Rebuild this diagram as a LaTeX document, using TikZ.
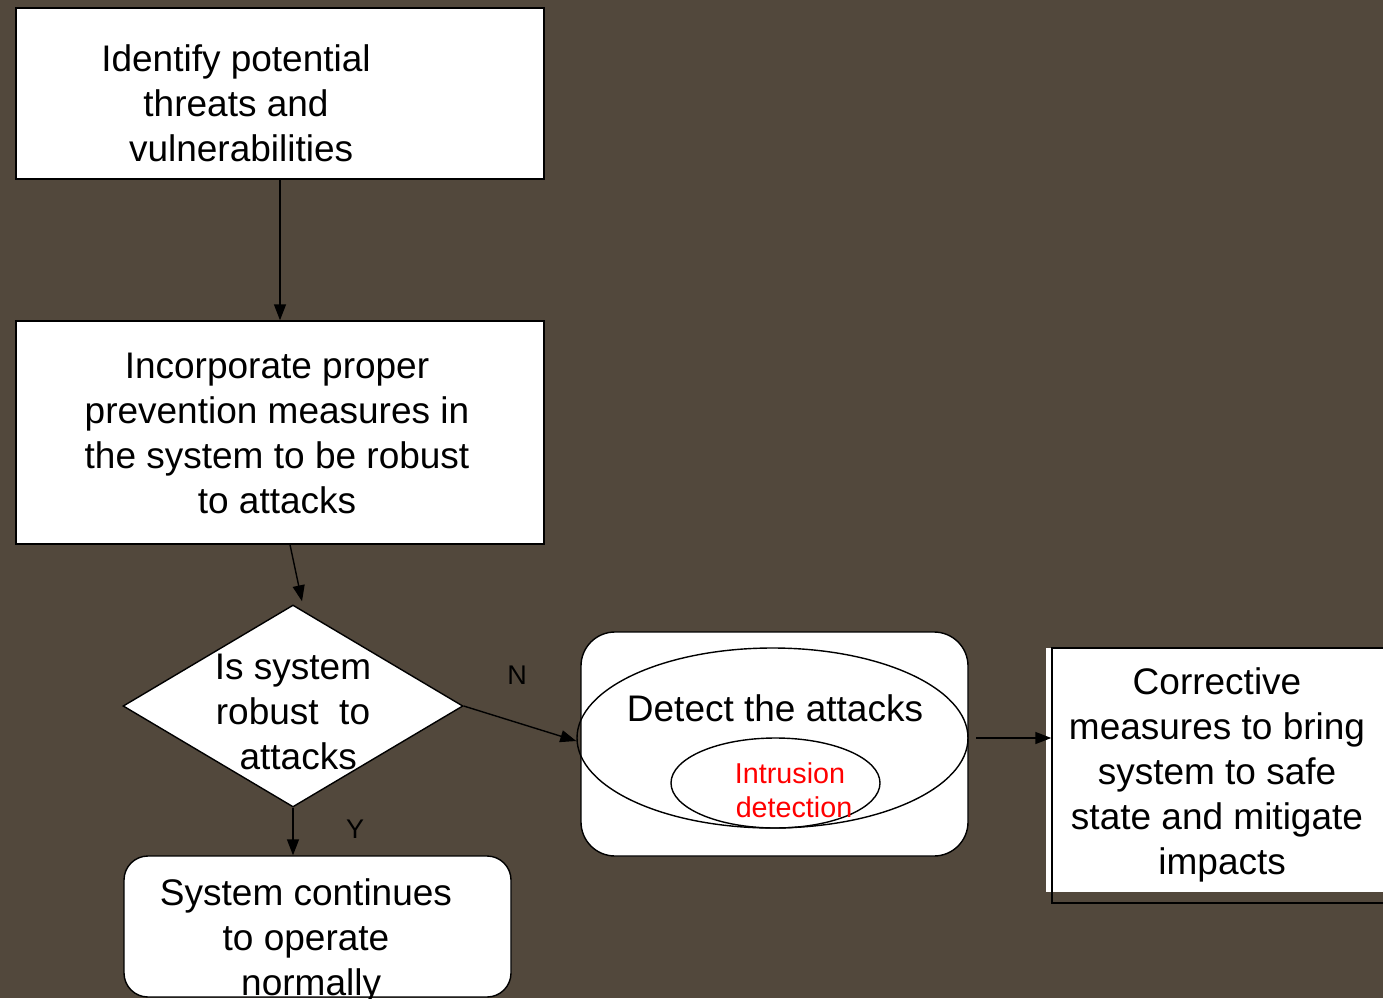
\documentclass[tikz,border=0pt]{standalone}
\usepackage{fontspec}
\setmainfont{Liberation Sans}
\usetikzlibrary{shapes.geometric,arrows.meta}
\definecolor{bg}{RGB}{82,72,60}
\definecolor{redtext}{RGB}{255,0,0}
\begin{document}
\begin{tikzpicture}[x=1pt,y=-1pt,
  box/.style={draw=black,fill=white,line width=1.4pt,inner sep=0pt},
  plain/.style={draw=black,line width=1.4pt,inner sep=0pt},
  txt/.style={align=center,font=\fontsize{37}{45}\selectfont,inner sep=0pt,text=black},
  redtxt/.style={align=center,font=\fontsize{28.7}{34}\selectfont,inner sep=0pt,text=redtext},
  lbl/.style={font=\fontsize{27}{32}\selectfont,inner sep=0pt,text=black},
  conn/.style={draw=black,line width=1.4pt,-{Triangle[length=16pt,width=12pt]}},
]
\fill[bg] (0,0) rectangle (1383,998);
\useasboundingbox (0,0) rectangle (1383,998);

% box 1
\node[box,minimum width=528pt,minimum height=171pt] (b1) at (280,93.5) {};
\node[txt] (t1) at (236,103) {Identify potential\\threats and\\\ vulnerabilities};

% box 2
\node[box,minimum width=528pt,minimum height=223pt] (b2) at (280,432.5) {};
\node[txt] (t2) at (277,433) {Incorporate proper\\prevention measures in\\the system to be robust\\to attacks};

% diamond
\node[box,diamond,minimum width=340pt,minimum height=202pt] (dia) at (293,706) {};
\node[txt] (t3) at (293,712) {Is system\\robust\ \ to\\\ attacks};

% bottom box
\node[box,rounded corners=24pt,minimum width=387pt,minimum height=141pt] (bot) at (317.5,926.5) {};
\node[txt] (t4) at (306,941) {System continues\\to operate\\\ normally};

% detect box
\node[box,rounded corners=34pt,minimum width=387pt,minimum height=224pt] (det) at (774.5,744) {};
\node[plain,ellipse,minimum width=391pt,minimum height=180pt] (ell) at (772.5,738) {};
\node[plain,ellipse,minimum width=209pt,minimum height=90pt] (sell) at (775.5,783) {};
\node[txt] (t5) at (775,708) {Detect the attacks};
\node[redtxt] (t6) at (790,790) {Intrusion\\\ detection};

% corrective box
\fill[white] (1046,648) rectangle (1390,892);
\node[plain,minimum width=348pt,minimum height=255pt] (corr) at (1226,775.5) {};
\node[txt] (t7) at (1217,775) {Corrective\\measures to bring\\system to safe\\state and mitigate\\\ impacts};

% labels
\node[lbl] (ln) at (517,675) {N};
\node[lbl] (ly) at (355,829) {Y};

% connectors
\draw[conn] (b1.south) -- (b2.north);
\draw[conn] ([xshift=10pt]b2.south) -- ([shift={(9,-3)}]dia.north);
\draw[conn] (dia.south) -- (dia.south |- bot.north);
\draw[conn] (dia.east) -- ([yshift=-3pt]ell.west);
\coordinate (a0) at (976,738);
\draw[conn] (a0) -- (a0 -| corr.west);
\end{tikzpicture}
\end{document}
